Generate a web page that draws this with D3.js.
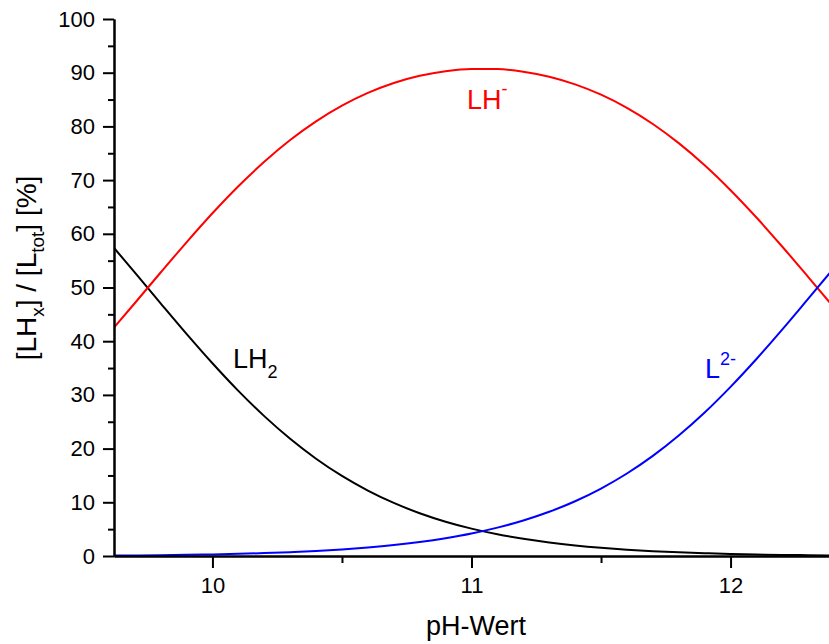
<!DOCTYPE html>
<html>
<head>
<meta charset="utf-8">
<script src="https://cdn.jsdelivr.net/npm/d3@7/dist/d3.min.js"></script>
<style>
  html, body { margin: 0; padding: 0; background: #fff; }
  svg { display: block; font-family: "Liberation Sans", Arial, sans-serif; }
</style>
</head>
<body>
<svg id="chart" width="829" height="644"></svg>
<script>
// Species distribution of a diprotic ligand LH2 vs. pH
const pH = [9.6, 9.7, 9.8, 9.9, 10.0, 10.1, 10.2, 10.3, 10.4, 10.5, 10.6, 10.7, 10.8, 10.9,
            11.0, 11.1, 11.2, 11.3, 11.4, 11.5, 11.6, 11.7, 11.8, 11.9, 12.0, 12.1, 12.2, 12.3, 12.4];
const lh2 = [58.51, 52.82, 47.05, 41.36, 35.89, 30.75, 26.05, 21.83, 18.12, 14.91, 12.18, 9.88, 7.97, 6.39,
             5.10, 4.05, 3.20, 2.52, 1.97, 1.53, 1.18, 0.90, 0.69, 0.52, 0.38, 0.28, 0.20, 0.15, 0.10];
const lhMinus = [41.42, 47.07, 52.79, 58.42, 63.82, 68.85, 73.41, 77.46, 80.94, 83.86, 86.23, 88.08, 89.42, 90.29,
                 90.71, 90.67, 90.19, 89.25, 87.83, 85.91, 83.46, 80.45, 76.88, 72.76, 68.12, 63.03, 57.59, 51.94, 46.22];
const l2Minus = [0.08, 0.11, 0.15, 0.22, 0.30, 0.40, 0.54, 0.72, 0.94, 1.23, 1.59, 2.04, 2.61, 3.32,
                 4.19, 5.28, 6.61, 8.23, 10.20, 12.56, 15.36, 18.64, 22.43, 26.72, 31.50, 36.69, 42.20, 47.92, 53.68];

const xMajor = [10, 11, 12];
const xMinor = [10.5, 11.5];
const yMajor = [0, 10, 20, 30, 40, 50, 60, 70, 80, 90, 100];
const yMinor = [5, 15, 25, 35, 45, 55, 65, 75, 85, 95];

const svg = d3.select("#chart");
const plotLeft = 114, plotRight = 829, plotTop = 19, plotBottom = 556;

const x = d3.scaleLinear().domain([9.62, 12.38]).range([plotLeft, plotRight]);
const y = d3.scaleLinear().domain([0, 100]).range([plotBottom, plotTop]);

svg.append("defs").append("clipPath").attr("id", "plot")
  .append("rect").attr("x", plotLeft).attr("y", 0)
  .attr("width", plotRight - plotLeft).attr("height", plotBottom);

// curves
const series = [
  { values: lh2, color: "#000000" },
  { values: lhMinus, color: "#ff0000" },
  { values: l2Minus, color: "#0000ff" }
];
const line = d3.line()
  .x((d, i) => x(pH[i]))
  .y(d => y(d))
  .curve(d3.curveMonotoneX);

const curves = svg.append("g").attr("clip-path", "url(#plot)");
series.forEach(s => {
  curves.append("path")
    .attr("d", line(s.values))
    .attr("fill", "none")
    .attr("stroke", s.color)
    .attr("stroke-width", 2);
});

// axes
function styleAxis(g) {
  g.selectAll("path.domain").attr("stroke", "#000").attr("stroke-width", 2);
  g.selectAll(".tick line").attr("stroke", "#000").attr("stroke-width", 2);
  g.selectAll("text").attr("font-size", 22).attr("fill", "#000")
    .attr("font-family", "'Liberation Sans', Arial, sans-serif");
}

const yMinorAxis = svg.append("g").attr("transform", `translate(${plotLeft},0)`)
  .call(d3.axisLeft(y).tickValues(yMinor).tickSize(6).tickSizeOuter(0).tickFormat(""));
styleAxis(yMinorAxis);
const yAxis = svg.append("g").attr("transform", `translate(${plotLeft},0)`)
  .call(d3.axisLeft(y).tickValues(yMajor).tickSize(11).tickPadding(8).tickSizeOuter(0).tickFormat(d3.format("d")));
styleAxis(yAxis);

const xMinorAxis = svg.append("g").attr("transform", `translate(0,${plotBottom})`)
  .call(d3.axisBottom(x).tickValues(xMinor).tickSize(7).tickSizeOuter(0).tickFormat(""));
styleAxis(xMinorAxis);
const xAxis = svg.append("g").attr("transform", `translate(0,${plotBottom})`)
  .call(d3.axisBottom(x).tickValues(xMajor).tickSize(12).tickPadding(9).tickSizeOuter(0).tickFormat(d3.format("d")));
styleAxis(xAxis);

// axis titles
svg.append("text")
  .attr("x", 476).attr("y", 635)
  .attr("text-anchor", "middle")
  .attr("font-size", 27)
  .text("pH-Wert");

const yTitle = svg.append("text")
  .attr("transform", "translate(36,268) rotate(-90)")
  .attr("text-anchor", "middle")
  .attr("font-size", 28);
yTitle.append("tspan").text("[LH");
yTitle.append("tspan").attr("font-size", 19).attr("dy", 8).text("x");
yTitle.append("tspan").attr("dy", -8).text("] / [L");
yTitle.append("tspan").attr("font-size", 19).attr("dy", 8).text("tot");
yTitle.append("tspan").attr("dy", -8).text("] [%]");

// species labels
function speciesLabel(px, py, main, extra, shift, color) {
  const t = svg.append("text").attr("x", px).attr("y", py)
    .attr("font-size", 27).attr("fill", color);
  t.append("tspan").text(main);
  t.append("tspan").attr("font-size", 18).attr("dy", shift).text(extra);
}
speciesLabel(233, 368, "LH", "2", 10, "#000000");
speciesLabel(467, 109, "LH", "-", -14, "#ff0000");
speciesLabel(705, 378, "L", "2-", -13, "#0000ff");
</script>
</body>
</html>
